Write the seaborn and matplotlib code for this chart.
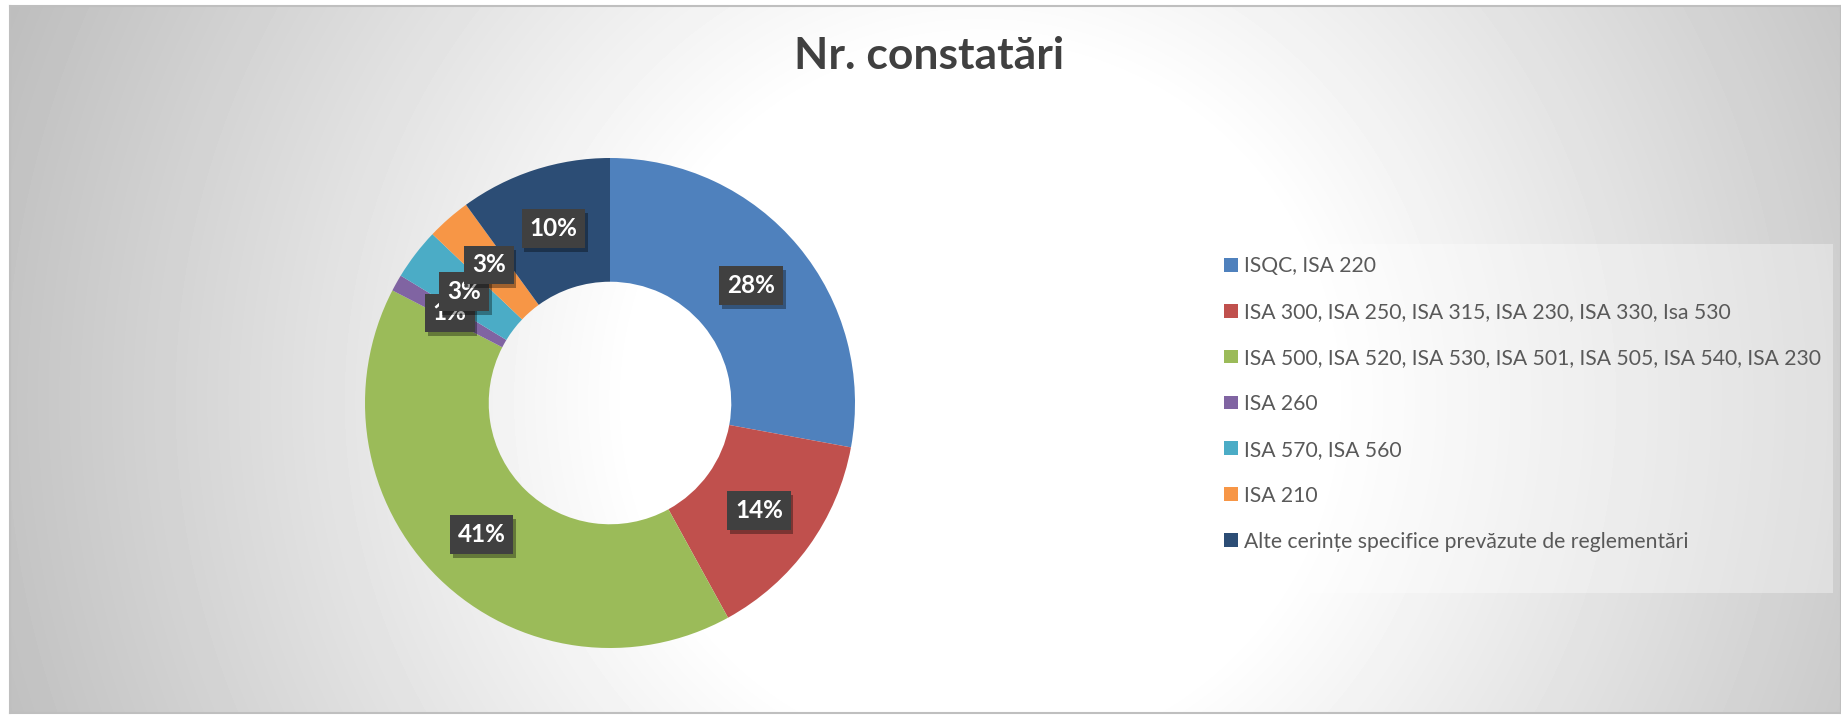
import numpy as np
import matplotlib
matplotlib.use('Agg')
import matplotlib.pyplot as plt
import matplotlib.patheffects as pe
from matplotlib.patches import Patch, Rectangle
import seaborn as sns

# %%
# date
categorii = ['ISQC, ISA 220',
             'ISA 300, ISA 250, ISA 315, ISA 230, ISA 330, Isa 530',
             'ISA 500, ISA 520, ISA 530, ISA 501, ISA 505, ISA 540, ISA 230',
             'ISA 260',
             'ISA 570, ISA 560',
             'ISA 210',
             'Alte cerințe specifice prevăzute de reglementări']
procente = [27.9, 14.1, 40.6, 1.1, 3.4, 2.9, 10.0]
culori = ['#4F81BD', '#C0504D', '#9BBB59', '#8064A2', '#4BACC6', '#F79646', '#2C4D75']
titlu = 'Nr. constatări'

# %%
sns.set_theme(style='white')
plt.rcParams['font.family'] = ['Lato', 'DejaVu Sans']
paleta = sns.color_palette(culori)

W, H = 1841, 717
fig = plt.figure(figsize=(W / 100, H / 100), dpi=100)
fig.patch.set_facecolor('white')

# fundal cu gradient radial
ax_bg = fig.add_axes([10 / W, 1 - 713 / H, 1 - 10 / W, (713 - 6) / H])
xx, yy = np.meshgrid(np.arange(10, W), np.arange(6, 713))
d = np.sqrt((xx - 980) ** 2 + (yy - 400) ** 2)
g = 1 - 0.24 * np.clip((d - 350) / 650, 0, 1.1)
ax_bg.imshow(g, cmap='gray', vmin=0, vmax=1, aspect='auto',
             extent=[10, W, 713, 6], interpolation='bilinear')
ax_bg.set_xticks([])
ax_bg.set_yticks([])
for s in ax_bg.spines.values():
    s.set_color('#bfbfbf')
    s.set_linewidth(1.5)

# %%
# donut
cx, cy, R = 610, 403, 245
ax = fig.add_axes([(cx - R) / W, 1 - (cy + R) / H, 2 * R / W, 2 * R / H])
ax.set_facecolor('none')
wedges, _, autotexts = ax.pie(procente, colors=paleta, startangle=90, counterclock=False,
                              radius=1, wedgeprops=dict(width=0.505, linewidth=0),
                              autopct=lambda p: '%.0f%%' % p, pctdistance=0.75)
ax.set_xlim(-1, 1)
ax.set_ylim(-1, 1)
ax.axis('off')

for t in autotexts:
    t.set_color('white')
    t.set_fontsize(17.5)
    t.set_fontweight('bold')
    t.set_bbox(dict(boxstyle='square,pad=0.32', facecolor='#404040', edgecolor='none'))
    t.get_bbox_patch().set_path_effects([
        pe.withSimplePatchShadow(offset=(2, -3), shadow_rgbFace='black', alpha=0.35)])

# %%
fig.text(929 / W, 1 - 56 / H, titlu, ha='center', va='center',
         fontsize=32, fontweight='bold', color='#404040')

# legenda
fig.patches.append(Rectangle((1212 / W, 1 - 593 / H), 621 / W, 349 / H,
                             transform=fig.transFigure, facecolor='white',
                             alpha=0.35, edgecolor='none', zorder=1))
handles = [Patch(facecolor=c, edgecolor='none') for c in paleta]
leg = fig.legend(handles, categorii, loc='upper left',
                 bbox_to_anchor=(1224 / W, 1 - 256 / H),
                 fontsize=15.2, labelcolor='#595959',
                 handlelength=0.64, handleheight=0.64, handletextpad=0.3,
                 labelspacing=1.23, borderpad=0, borderaxespad=0, frameon=False)

plt.savefig('out.png', dpi=100, facecolor='white')
